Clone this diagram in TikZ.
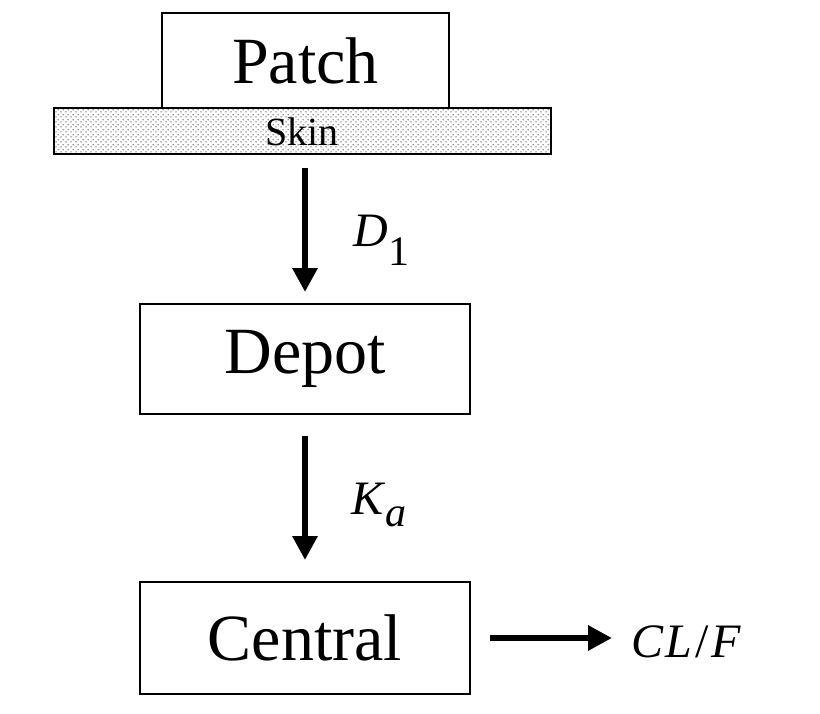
\documentclass[tikz,border=0pt]{standalone}
\usepackage{fontspec}
\setmainfont{Liberation Serif}
\usetikzlibrary{arrows.meta,patterns.meta}
\tikzdeclarepattern{
  name=skindots,
  type=uncolored,
  bounding box={(0,0) and (5pt,5pt)},
  tile size={(5pt,5pt)},
  code={
    \pgfpathcircle{\pgfpoint{1.25pt}{1.25pt}}{0.9pt}
    \pgfpathcircle{\pgfpoint{3.75pt}{3.75pt}}{0.9pt}
    \pgfusepath{fill}
  }
}
\begin{document}
\begin{tikzpicture}[x=1pt,y=-1pt,
  box/.style={draw=black,line width=2.5pt,fill=white,inner sep=0pt},
  flow/.style={line width=6.5pt,-{Triangle[length=24pt,width=24pt]}},
  big/.style={font=\fontsize{66}{70}\selectfont},
  lab/.style={font=\fontsize{48}{52}\selectfont,anchor=west}]
\useasboundingbox (0,0) rectangle (820,713);
% skin
\path[pattern={skindots},pattern color=black!55] (54,108) rectangle (551,154);
\node[draw=black,line width=2.5pt,minimum width=497pt,minimum height=46pt,inner sep=0pt] (skin) at (302.5,131) {};
\node[font=\fontsize{40}{44}\selectfont,text=black] (skintext) at (302,132) {Skin};
\node[box,big,minimum width=287pt,minimum height=95pt] (patch) at (305.5,60.5) {Patch};
\node[box,big,minimum width=330pt,minimum height=110pt] (depot) at (305,359) {Depot};
\node[box,big,minimum width=330pt,minimum height=112pt] (central) at (305,638) {Central};
\coordinate (a1s) at (305,168);
\coordinate (a1e) at (305,292);
\draw[flow] (a1s) -- (a1e);
\node[lab] (d1) at (350,240) {\textit{D}\textsubscript{\fontsize{42}{44}\selectfont 1}};
\coordinate (a2s) at (305,436);
\coordinate (a2e) at (305,560);
\draw[flow] (a2s) -- (a2e);
\node[lab] (ka) at (348,505) {\textit{K}\textsubscript{\fontsize{42}{44}\selectfont\itshape a}};
\coordinate (a3s) at (490,638);
\coordinate (a3e) at (612,638);
\draw[flow] (a3s) -- (a3e);
\node[lab] (clf) at (628,642) {\textit{C\kern2pt L}\kern3pt/\kern3pt\textit{F}};
\end{tikzpicture}
\end{document}
